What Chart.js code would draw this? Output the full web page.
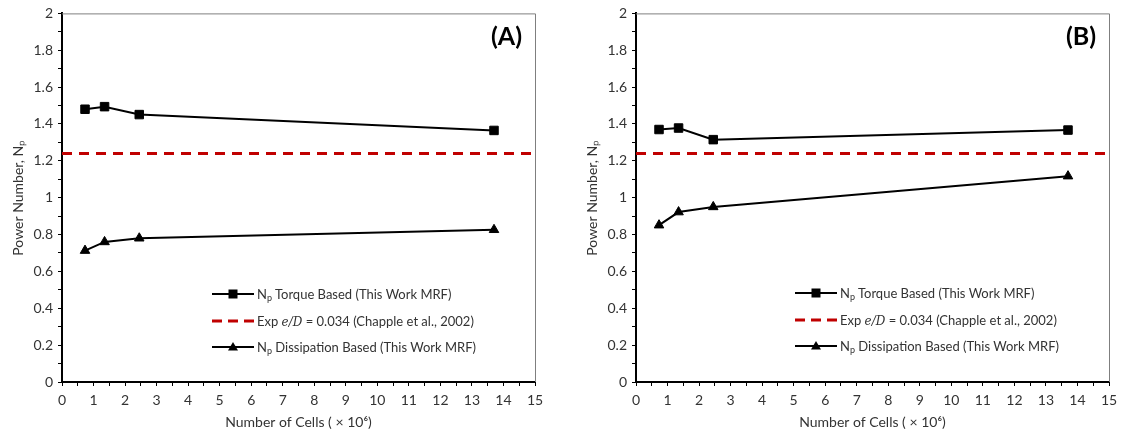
<!DOCTYPE html>
<html>
<head>
<meta charset="utf-8">
<script src="https://cdn.jsdelivr.net/npm/chart.js@4.4.0/dist/chart.umd.min.js"></script>
<style>
  body { margin: 0; background: #fff; font-family: Lato, sans-serif; }
  #wrap { position: relative; width: 1125px; height: 434px; overflow: hidden; }
  canvas { position: absolute; top: 0; }
  .panel { position: absolute; font-weight: bold; font-size: 25px; color: #000; line-height: 1; }
  .leg { position: absolute; display: flex; align-items: center; height: 16px; font-size: 13px; color: #333; white-space: nowrap; }
  .leg svg { margin-right: 3px; }
  .leg sub { font-size: 9px; vertical-align: -2px; }
  .ed { font-family: "DejaVu Serif", serif; font-style: italic; font-size: 12px; }
</style>
</head>
<body>
<div id="wrap">
  <canvas id="chartA" width="560" height="434" style="left:0px"></canvas>
  <canvas id="chartB" width="551" height="434" style="left:574px"></canvas>
  <div class="panel" style="left:491px; top:23px">(A)</div>
  <div class="panel" style="left:1066px; top:23px">(B)</div>
  <div id="legA"></div>
  <div id="legB"></div>
</div>
<script>
// cell counts (x 10^6), same meshes for both panels
var cells = [0.73, 1.35, 2.45, 13.7];

// panel A
var torqueA = [1.48, 1.494, 1.451, 1.365];
var dissA = [0.713, 0.76, 0.78, 0.826];

// panel B
var torqueB = [1.37, 1.378, 1.315, 1.367];
var dissB = [0.851, 0.922, 0.95, 1.117];

// experimental value, Chapple et al. 2002
var expX = [0, 15];
var expNp = [1.24, 1.24];

var labelTorque = "Np Torque Based (This Work MRF)";
var labelExp = "Exp e/D = 0.034 (Chapple et al., 2002)";
var labelDiss = "Np Dissipation Based (This Work MRF)";

var xTitle = "Number of Cells ( \u00d7 10\u2076)";
var yTitle = "Power Number, N\u209a";

function pts(xs, ys) {
  return xs.map(function (x, i) {
    return { x: x, y: ys[i] };
  });
}

// grey top/right frame lines
var framePlugin = {
  id: "frame",
  afterDraw: function (chart) {
    var a = chart.chartArea;
    var ctx = chart.ctx;
    ctx.save();
    ctx.strokeStyle = "#7f7f7f";
    ctx.lineWidth = 1;
    ctx.beginPath();
    ctx.moveTo(a.left, a.top + 0.5);
    ctx.lineTo(a.right + 0.5, a.top + 0.5);
    ctx.lineTo(a.right + 0.5, a.bottom);
    ctx.stroke();
    ctx.restore();
  }
};

var tickFont = { family: "Lato", size: 14 };

function makeChart(id, torque, diss, padRight) {
  var config = {
    type: "scatter",
    data: {
      datasets: [
        {
          label: labelTorque,
          data: pts(cells, torque),
          showLine: true,
          borderColor: "#000",
          backgroundColor: "#000",
          borderWidth: 2,
          pointStyle: "rect",
          pointRadius: 6,
          pointBorderWidth: 1
        },
        {
          label: labelExp,
          data: pts(expX, expNp),
          showLine: true,
          borderColor: "#c00000",
          borderWidth: 3,
          borderDash: [10, 7],
          pointRadius: 0
        },
        {
          label: labelDiss,
          data: pts(cells, diss),
          showLine: true,
          borderColor: "#000",
          backgroundColor: "#000",
          borderWidth: 2,
          pointStyle: "triangle",
          pointRadius: 5.5,
          pointBorderWidth: 1
        }
      ]
    },
    options: {
      responsive: false,
      animation: false,
      devicePixelRatio: 1,
      layout: { padding: { top: 13, right: padRight, left: 0, bottom: 0 } },
      plugins: { legend: { display: false }, tooltip: { enabled: false } },
      scales: {
        x: {
          type: "linear",
          min: 0,
          max: 15,
          afterFit: function (s) { s.height = 52; },
          border: { color: "#000", width: 2 },
          grid: { drawOnChartArea: false, tickLength: 4, tickColor: "#000" },
          ticks: {
            stepSize: 0.5,
            autoSkip: false,
            maxRotation: 0,
            padding: 6,
            color: "#333",
            font: tickFont,
            callback: function (v) {
              return Math.abs(v - Math.round(v)) < 1e-6 ? String(Math.round(v)) : "";
            }
          },
          title: {
            display: true,
            text: xTitle,
            color: "#333",
            font: tickFont,
            padding: { top: 0, bottom: 3 }
          }
        },
        y: {
          min: 0,
          max: 2,
          afterFit: function (s) { s.width = 62; },
          border: { color: "#000", width: 2 },
          grid: { drawOnChartArea: false, tickLength: 4, tickColor: "#000" },
          ticks: {
            stepSize: 0.1,
            maxTicksLimit: 100,
            autoSkip: false,
            padding: 5,
            color: "#333",
            font: tickFont,
            callback: function (v) {
              var t = Math.round(v * 10);
              return t % 2 === 0 ? String(t / 10) : "";
            }
          },
          title: {
            display: true,
            text: yTitle,
            color: "#333",
            font: tickFont,
            padding: { top: 10, bottom: 0 }
          }
        }
      }
    },
    plugins: [framePlugin]
  };
  return new Chart(document.getElementById(id), config);
}

var chartA = makeChart("chartA", torqueA, dissA, 25);
var chartB = makeChart("chartB", torqueB, dissB, 16);

// legend inside the plot, built from the datasets
function symbol(ds) {
  var svg = '<svg width="42" height="14" viewBox="0 0 42 14">';
  if (ds.borderDash) {
    svg += '<line x1="0" y1="7" x2="42" y2="7" stroke="' + ds.borderColor + '" stroke-width="3" stroke-dasharray="10 6"/>';
  } else {
    svg += '<line x1="0" y1="7" x2="42" y2="7" stroke="#000" stroke-width="2"/>';
    if (ds.pointStyle === "rect") svg += '<rect x="16.5" y="2.5" width="9" height="9" fill="#000"/>';
    if (ds.pointStyle === "triangle") svg += '<polygon points="21,2 26,10.5 16,10.5" fill="#000"/>';
  }
  return svg + "</svg>";
}

function legendText(label) {
  if (label.indexOf("Np") === 0) return "N<sub>p</sub>" + label.slice(2);
  return label.replace("e/D", '<span class="ed">e/D</span>');
}

function buildLegend(el, chart, left, tops) {
  var html = "";
  chart.data.datasets.forEach(function (ds, i) {
    html += '<div class="leg" style="left:' + left + 'px; top:' + (tops[i] - 8) + 'px">' +
      symbol(ds) + "<span>" + legendText(ds.label) + "</span></div>";
  });
  document.getElementById(el).innerHTML = html;
}

buildLegend("legA", chartA, 212, [294, 321, 347]);
buildLegend("legB", chartB, 795, [293, 320, 346]);
</script>
</body>
</html>
